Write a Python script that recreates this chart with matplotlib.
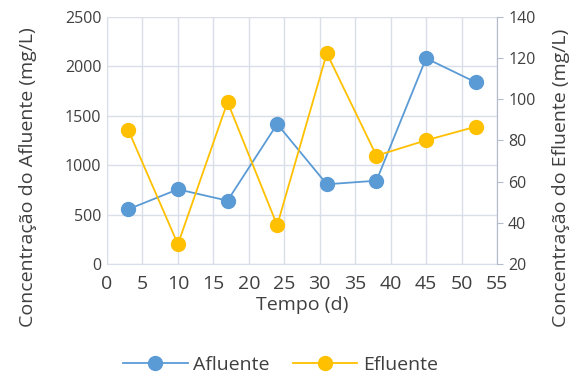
import numpy as np
import matplotlib.pyplot as plt

plt.rcParams['font.family'] = ['Open Sans', 'DejaVu Sans']

tempo = [3, 10, 17, 24, 31, 38, 45, 52]
afluente = [554, 756, 641, 1417, 807, 843, 2082, 1839]
efluente = [85.1, 29.6, 98.7, 38.8, 122.4, 72.6, 80.1, 86.7]

blue = '#5B9BD5'
orange = '#FFC000'
txt = '#404040'
grid = '#D9DEE8'

fig = plt.figure(figsize=(5.73, 3.76), dpi=100)
ax = fig.add_axes([107 / 573, 1 - 264 / 376, 390 / 573, 247 / 376])
ax2 = ax.twinx()

l1, = ax.plot(tempo, afluente, '-o', color=blue, lw=1.3, ms=10,
              markeredgecolor=blue, label='Afluente', zorder=3)
l2, = ax2.plot(tempo, efluente, '-o', color=orange, lw=1.3, ms=10,
               markeredgecolor=orange, label='Efluente', zorder=3)

ax.set_xlim(0, 55)
ax.set_xticks(np.arange(0, 56, 5))
ax.set_ylim(0, 2500)
ax.set_yticks(np.arange(0, 2501, 500))
ax2.set_ylim(20, 140)
ax2.set_yticks(np.arange(20, 141, 20))

ax.grid(True, color=grid, lw=1)
ax.set_axisbelow(True)

for a in (ax, ax2):
    for s in a.spines.values():
        s.set_color(grid)
    a.tick_params(colors=txt, labelsize=11.5)
ax.spines['top'].set_visible(False)
ax2.spines['top'].set_visible(False)
ax2.spines['left'].set_visible(False)
ax2.spines['bottom'].set_visible(False)
ax2.spines['right'].set_color('#B4BCCC')
ax.tick_params(axis='y', length=0, pad=4)
ax.tick_params(axis='x', length=0, pad=8, labelsize=14)
ax2.tick_params(axis='y', length=4, color='#B4BCCC', pad=4)

ax.set_xlabel('Tempo (d)', fontsize=14, color=txt, labelpad=2)
ax.set_ylabel('Concentração do Afluente (mg/L)', fontsize=14, color=txt)
ax2.set_ylabel('Concentração do Efluente (mg/L)', fontsize=14, color=txt)
ax.yaxis.set_label_coords(-0.18, 0.35)
ax2.yaxis.set_label_coords(1.14, 0.35)

fig.legend(handles=[l1, l2], loc='center', bbox_to_anchor=(0.49, 1 - 365 / 376),
           ncol=2, frameon=False, fontsize=14, labelcolor=txt,
           handlelength=3.3, columnspacing=1.2, handletextpad=0.3)

fig.savefig('out.png', dpi=100)
